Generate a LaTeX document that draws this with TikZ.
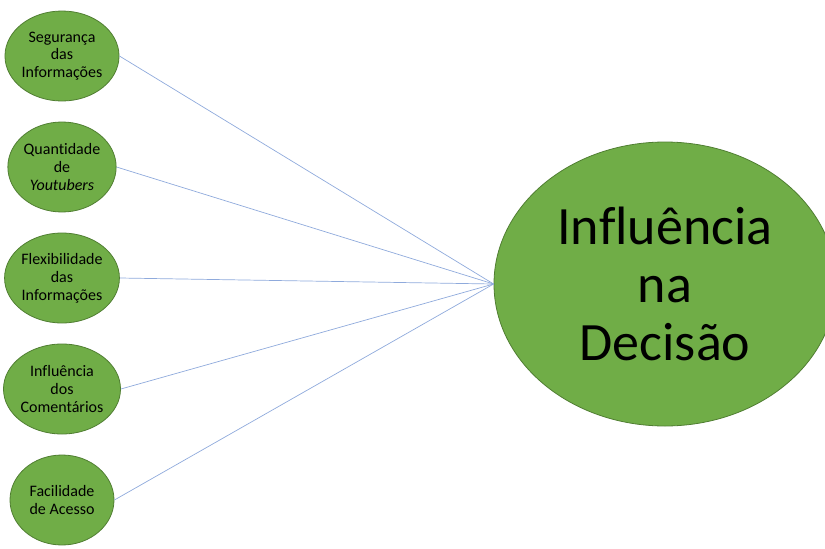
\documentclass[tikz,border=0pt]{standalone}
\usepackage{fontspec}
\setmainfont{Carlito}[Ligatures=NoCommon]
\usetikzlibrary{shapes.geometric}
\definecolor{nodegreen}{HTML}{70AD47}
\definecolor{edgegreen}{HTML}{507E32}
\definecolor{linkblue}{HTML}{8FAADC}

\begin{document}
\begin{tikzpicture}[x=1pt,y=-1pt,
  factor node/.style={ellipse,fill=nodegreen,draw=edgegreen,line width=0.8pt,
    minimum width=104pt,minimum height=90pt,inner sep=0pt,align=center,
    font=\fontsize{16}{17.8}\selectfont},
  result node/.style={ellipse,fill=nodegreen,draw=edgegreen,line width=0.8pt,
    minimum width=342pt,minimum height=284pt,inner sep=0pt,align=center,
    font=\fontsize{54}{58}\selectfont}]
  \useasboundingbox (0,0) rectangle (825,549);

  \node[factor node] (seguranca) at (62,56) {Segurança\\das\\Informações};
  \node[factor node] (quantidade) at (62,167) {Quantidade\\de\\\textit{Youtubers}};
  \node[factor node] (flexibilidade) at (62,278) {Flexibilidade\\das\\Informações};
  \node[factor node] (comentarios) at (62,389) {Influência\\dos\\Comentários};
  \node[factor node] (acesso) at (62,500) {Facilidade\\de Acesso};
  \node[result node] (decisao) at (665,284) {Influência\\na\\Decisão};

  \path[draw=linkblue,line width=0.7pt]
    (seguranca.east) edge (decisao.west)
    (quantidade.east) edge (decisao.west)
    (flexibilidade.east) edge (decisao.west)
    (comentarios.east) edge (decisao.west)
    (acesso.east) edge (decisao.west);
\end{tikzpicture}
\end{document}
